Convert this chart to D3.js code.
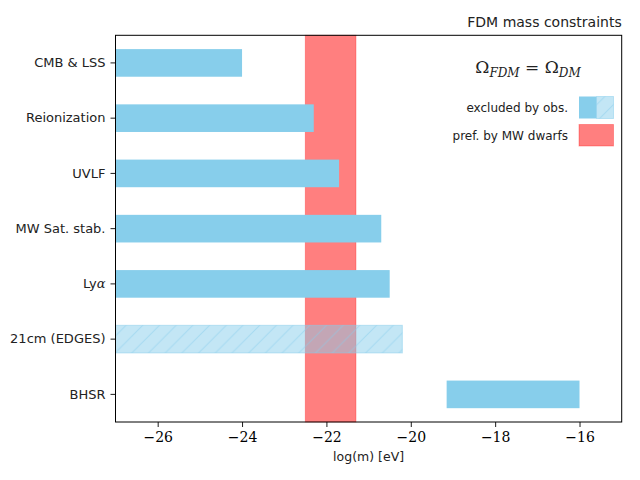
<!DOCTYPE html>
<html>
<head>
<meta charset="utf-8">
<script src="https://cdn.jsdelivr.net/npm/d3@7"></script>
<style>
  body { margin: 0; background: #fff; }
  svg { display: block; }
  .sans { font-family: "DejaVu Sans", sans-serif; }
  .serif { font-family: "DejaVu Serif", "Liberation Serif", serif; }
</style>
</head>
<body>
<div id="chart"></div>
<script>
(() => {
// constraints, top to bottom
const categories = ['CMB & LSS', 'Reionization', 'UVLF', 'MW Sat. stab.', 'Lyα', '21cm (EDGES)', 'BHSR'];
const lowerBounds = [-27, -27, -27, -27, -27, -27, -19.15];
const upperBounds = [-24, -22.3, -21.7, -20.7, -20.5, -20.2, -16];
const hatched = [false, false, false, false, false, true, false];
const preferredBand = [-22.5, -21.3];
const xTicks = [-26, -24, -22, -20, -18, -16];
const xDomain = [-27, -15];

const width = 640;
const height = 480;
const margin = { top: 35.3, right: 18.3, bottom: 58, left: 115.5 };
const innerW = width - margin.left - margin.right;
const innerH = height - margin.top - margin.bottom;
const blue = '#87ceeb';

const svg = d3.select('#chart')
    .append('svg')
    .attr('width', width)
    .attr('height', height);

const defs = svg.append('defs');
const hatch = defs.append('pattern')
    .attr('id', 'hatch')
    .attr('patternUnits', 'userSpaceOnUse')
    .attr('width', 16.7)
    .attr('height', 16.7);
hatch.append('path')
    .attr('d', 'M-2,18.7 L18.7,-2 M-2,2 L2,-2 M14.7,18.7 L18.7,14.7')
    .attr('stroke', blue)
    .attr('stroke-opacity', 0.5)
    .attr('stroke-width', 1);

const g = svg.append('g')
    .attr('transform', `translate(${margin.left},${margin.top})`);

const x = d3.scaleLinear().domain(xDomain).range([0, innerW]);
const y = d3.scaleBand().domain(categories).range([0, innerH])
    .paddingInner(0.5).paddingOuter(0.25);

const data = categories.map((c, i) => ({
    label: c, lo: lowerBounds[i], hi: upperBounds[i], hatched: hatched[i]
}));

// preferred band from MW dwarfs
g.append('rect')
    .attr('x', x(preferredBand[0]))
    .attr('y', 0)
    .attr('width', x(preferredBand[1]) - x(preferredBand[0]))
    .attr('height', innerH)
    .attr('fill', 'red')
    .attr('fill-opacity', 0.5)
    .attr('stroke', 'red')
    .attr('stroke-opacity', 0.3);

const bars = g.selectAll('g.bar')
    .data(data)
    .enter()
    .append('g')
    .attr('class', 'bar');

bars.filter(d => !d.hatched)
    .append('rect')
    .attr('x', d => x(d.lo))
    .attr('y', d => y(d.label))
    .attr('width', d => x(d.hi) - x(d.lo))
    .attr('height', y.bandwidth())
    .attr('fill', blue);

const hb = bars.filter(d => d.hatched);
hb.append('rect')
    .attr('x', d => x(d.lo))
    .attr('y', d => y(d.label))
    .attr('width', d => x(d.hi) - x(d.lo))
    .attr('height', y.bandwidth())
    .attr('fill', blue)
    .attr('fill-opacity', 0.5)
    .attr('stroke', blue)
    .attr('stroke-opacity', 0.5)
    .attr('stroke-width', 1);
hb.append('rect')
    .attr('x', d => x(d.lo))
    .attr('y', d => y(d.label))
    .attr('width', d => x(d.hi) - x(d.lo))
    .attr('height', y.bandwidth())
    .attr('fill', 'url(#hatch)');

// axes
const xAxis = g.append('g')
    .attr('transform', `translate(0,${innerH})`)
    .call(d3.axisBottom(x).tickValues(xTicks).tickSize(5).tickPadding(5)
        .tickFormat(d => '\u2212' + Math.abs(d)));
xAxis.selectAll('text')
    .attr('class', 'serif')
    .attr('font-size', 14)
    .attr('fill', '#000');

const yAxis = g.append('g')
    .call(d3.axisLeft(y).tickSize(5).tickPadding(5));
yAxis.selectAll('text')
    .attr('class', 'sans')
    .attr('font-size', 13)
    .attr('fill', '#222')
    .each(function (d) {
        if (d === 'Lyα') {
            const t = d3.select(this).text('');
            t.append('tspan').text('Ly');
            t.append('tspan').attr('class', 'serif').attr('font-style', 'italic').text('α');
        }
    });

[xAxis, yAxis].forEach(a => {
    a.select('.domain').remove();
    a.selectAll('line').attr('stroke', '#000').attr('stroke-width', 0.9);
});

g.append('rect')
    .attr('width', innerW)
    .attr('height', innerH)
    .attr('fill', 'none')
    .attr('stroke', '#000')
    .attr('stroke-width', 1);

// labels
svg.append('text')
    .attr('class', 'sans')
    .attr('x', margin.left + innerW / 2)
    .attr('y', 461)
    .attr('text-anchor', 'middle')
    .attr('font-size', 12.5)
    .attr('fill', '#222')
    .text('log(m) [eV]');

svg.append('text')
    .attr('class', 'sans')
    .attr('x', margin.left + innerW)
    .attr('y', 27)
    .attr('text-anchor', 'end')
    .attr('font-size', 14)
    .attr('fill', '#222')
    .text('FDM mass constraints');

// formula
const f = svg.append('text')
    .attr('class', 'serif')
    .attr('x', 528)
    .attr('y', 73)
    .attr('text-anchor', 'middle')
    .attr('font-size', 17)
    .attr('fill', '#222');
f.append('tspan').text('Ω');
f.append('tspan').attr('font-style', 'italic').attr('font-size', 12).attr('dy', 4).text('FDM');
f.append('tspan').attr('dy', -4).text(' = Ω');
f.append('tspan').attr('font-style', 'italic').attr('font-size', 12).attr('dy', 4).text('DM');

// legend
const legend = svg.append('g');
const legendItems = ['excluded by obs.', 'pref. by MW dwarfs'];
const legendY = [96.5, 124.5];
legendItems.forEach((label, i) => {
    legend.append('text')
        .attr('class', 'sans')
        .attr('x', 568)
        .attr('y', legendY[i] + 11)
        .attr('dy', '0.35em')
        .attr('text-anchor', 'end')
        .attr('font-size', 12)
        .attr('fill', '#222')
        .text(label);
});
legend.append('rect')
    .attr('x', 579).attr('y', legendY[0]).attr('width', 17.5).attr('height', 22)
    .attr('fill', blue);
legend.append('rect')
    .attr('x', 596.5).attr('y', legendY[0]).attr('width', 17).attr('height', 22)
    .attr('fill', blue).attr('fill-opacity', 0.5)
    .attr('stroke', blue).attr('stroke-opacity', 0.5);
legend.append('rect')
    .attr('x', 596.5).attr('y', legendY[0]).attr('width', 17).attr('height', 22)
    .attr('fill', 'url(#hatch)');
legend.append('rect')
    .attr('x', 579).attr('y', legendY[1]).attr('width', 34.5).attr('height', 21.5)
    .attr('fill', 'red').attr('fill-opacity', 0.5)
    .attr('stroke', 'red').attr('stroke-opacity', 0.3);
})();
</script>
</body>
</html>
